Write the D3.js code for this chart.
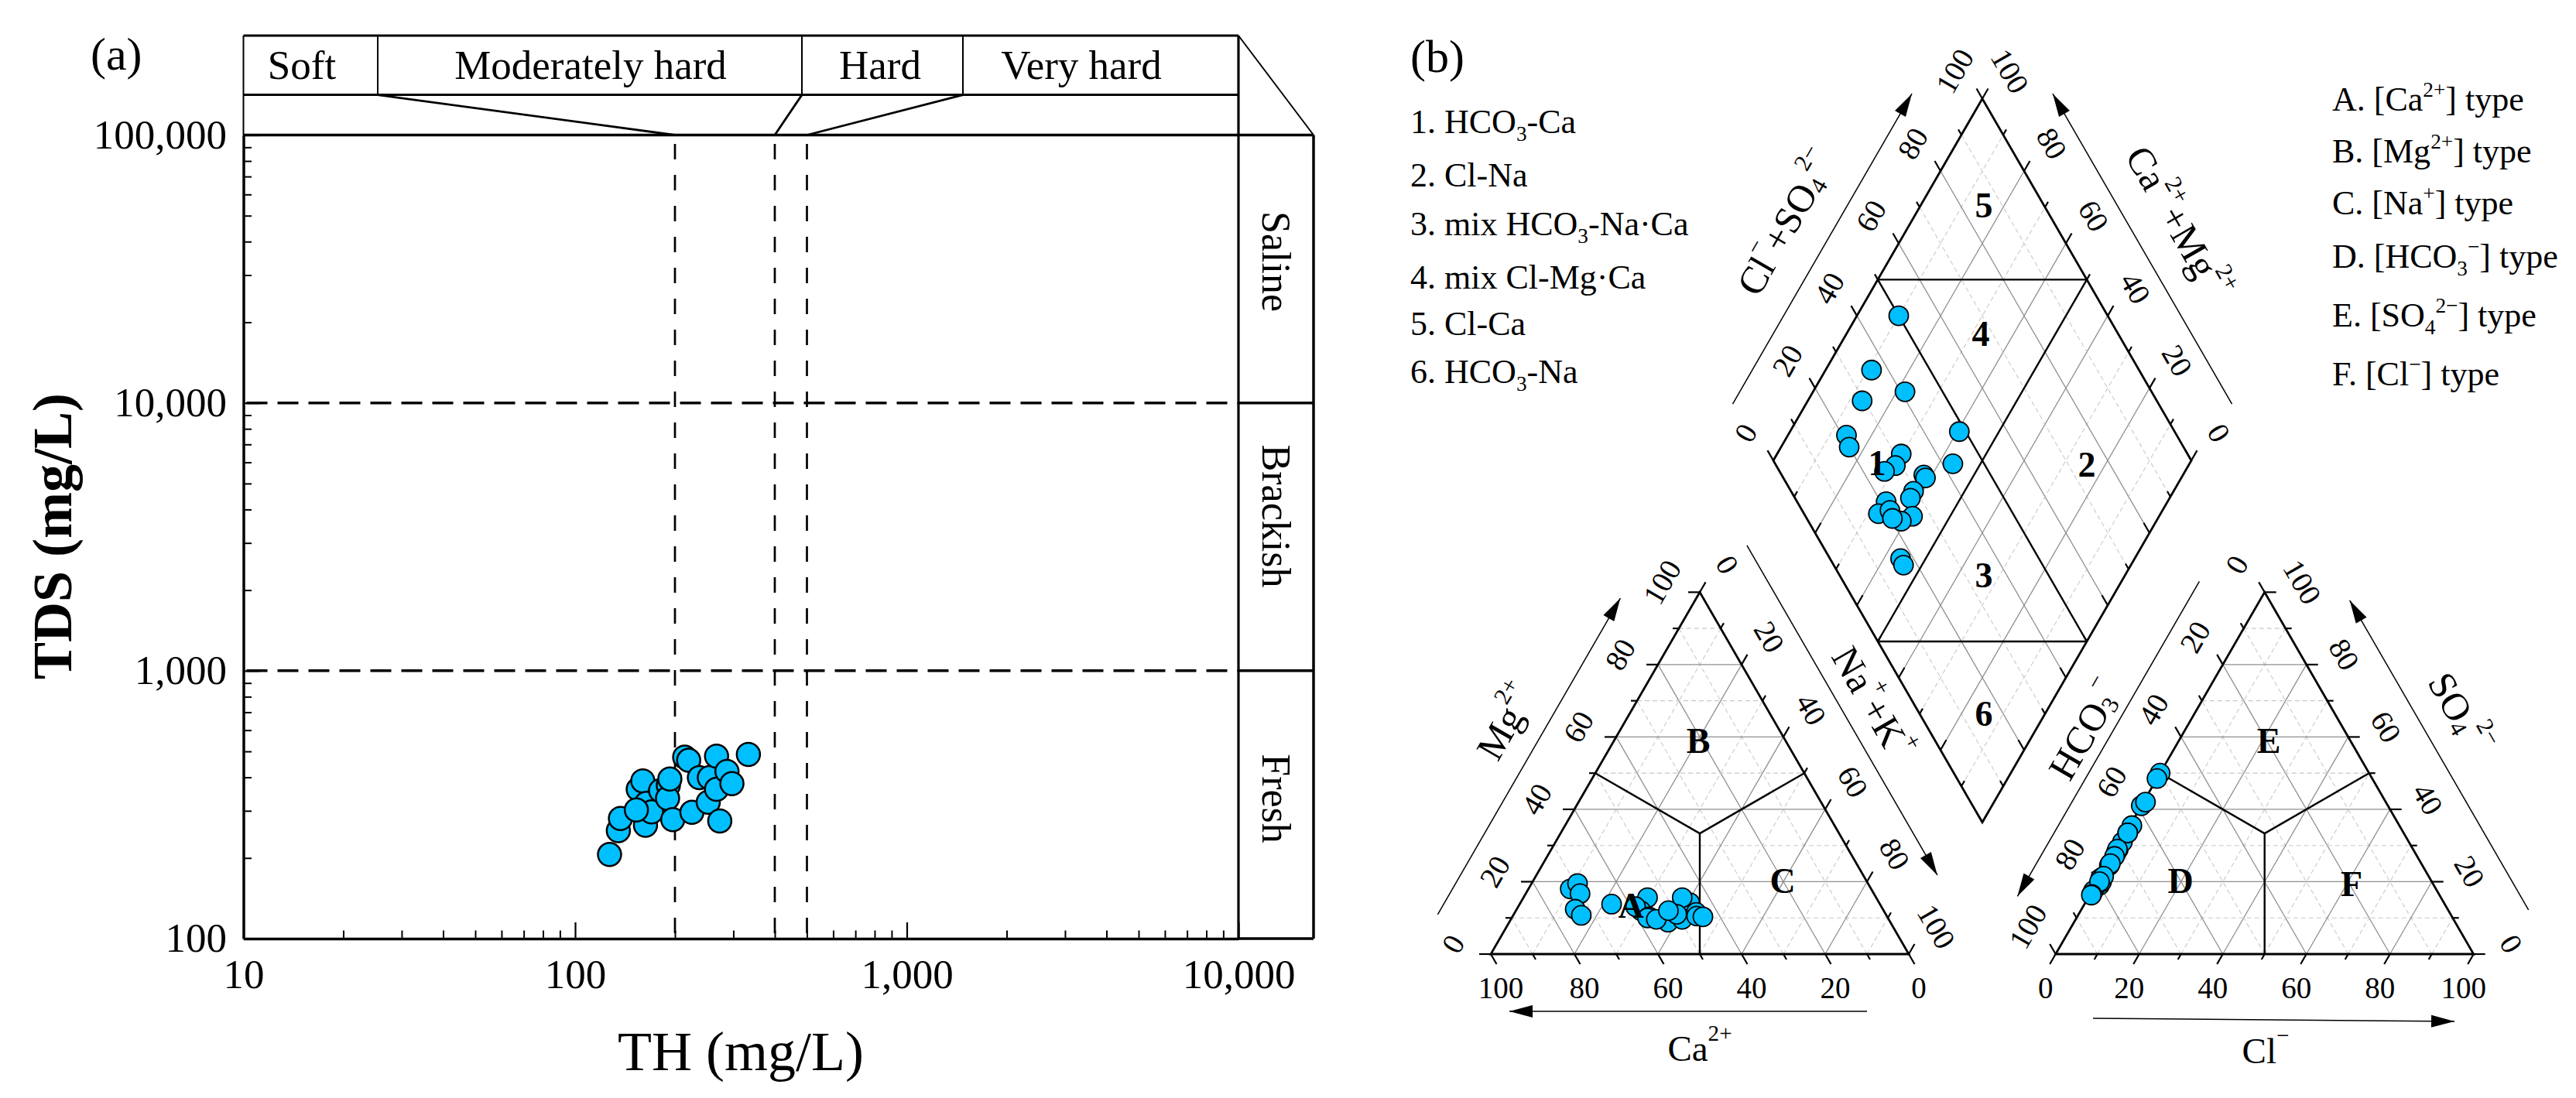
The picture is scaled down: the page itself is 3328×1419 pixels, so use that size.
<!DOCTYPE html>
<html><head><meta charset="utf-8">
<script src="https://cdn.jsdelivr.net/npm/d3@7"></script>
<style>
body{margin:0;background:#fff}
svg{display:block}
text{font-family:"Liberation Serif","Times New Roman",serif;fill:#000}
</style>
</head><body>
<svg id="c" width="3328" height="1419"></svg>
<script>
// ================= DATA =================
// Panel (a): total hardness vs total dissolved solids (mg/L)
const thValues  = [127,135,137,155,160,158,163,164,170,181,191,190,197,214,220,225,237,252,254,267,267,273,287,297,333,153,193];
const tdsValues = [206,253,281,361,388,299,265,320,297,357,373,334,278,476,463,296,399,323,399,480,361,275,421,379,487,302,394];
const hardnessClasses = ["Soft","Moderately hard","Hard","Very hard"];
const hardnessBounds = [200,400,500];
const salinityClasses = ["Saline","Brackish","Fresh"];
const salinityBounds = [10000,1000];
const xTickValues = [10,100,1000,10000];
const yTickValues = [100,1000,10000,100000];

// Panel (b): Piper diagram, milliequivalent percentages
const naK   = [10,11,22,13,14,16.3,40.5,43.4,29.7,29.9,28.1,38,38.8,37.8,38,32.7,32.5,34.8,41,39,36.5,44,45.6];
const mgPct = [18,19.5,13.8,16.7,12.4,10.7,14.2,11.5,15.6,12,13.1,15.6,11,10.3,8.8,10.3,10,9.6,9.6,11,12,10.5,10.3];
const so4Pct= [50,35.5,41,29,20.5,19,48.5,42,31,28,24.5,33.5,33.5,29,27,21,17.5,20,25,21.5,20,16.5,16.3];
const clPct = [0,0.5,0,0.5,0.5,1,0,0.5,0.5,0.5,0.6,0.5,0.5,0.3,0.6,0.3,0.3,1,0.6,0.75,0.5,0.4,0.4];
const percentTicks = [0,20,40,60,80,100];
const diamondTypes = ["1. HCO_{3}-Ca","2. Cl-Na","3. mix HCO_{3}-Na·Ca","4. mix Cl-Mg·Ca","5. Cl-Ca","6. HCO_{3}-Na"];
const triangleTypes = ["A. [Ca^{2+}] type","B. [Mg^{2+}] type","C. [Na^{+}] type","D. [HCO_{3}^{−}] type","E. [SO_{4}^{2−}] type","F. [Cl^{−}] type"];

// ================= SETUP =================
const FONT = '"Liberation Serif","Times New Roman",serif';
const BLUE = "#00bfff";
const svg = d3.select("#c");
svg.append("rect").attr("width",3328).attr("height",1419).attr("fill","#fff");

function rich(sel, str, fs){
  const parts = str.split(/(_\{[^}]*\}|\^\{[^}]*\})/g).filter(s=>s.length);
  let shift = 0;
  parts.forEach(p=>{
    let target=0, content=p, size=fs;
    if (p.startsWith("_{")) { target = 0.22*fs; content = p.slice(2,-1); size = 0.62*fs; }
    else if (p.startsWith("^{")) { target = -0.42*fs; content = p.slice(2,-1); size = 0.62*fs; }
    sel.append("tspan").attr("dy", target-shift).attr("font-size", size).text(content);
    shift = target;
  });
  return sel;
}
function line(g,x1,y1,x2,y2,w,col,dash){
  const l = g.append("line").attr("x1",x1).attr("y1",y1).attr("x2",x2).attr("y2",y2)
    .attr("stroke",col||"#000").attr("stroke-width",w).attr("stroke-linecap","butt");
  if (dash) l.attr("stroke-dasharray",dash);
  return l;
}

// ================= PANEL (a) =================
const gA = svg.append("g");
const x = d3.scaleLog().domain([10,10000]).range([314.5,1600]);
const y = d3.scaleLog().domain([100,100000]).range([1213,174.5]);

// dashed class boundaries
hardnessBounds.forEach(v=>line(gA,x(v),186,x(v),y(100),2.7,"#000","20,20"));
salinityBounds.forEach(v=>line(gA,x(10)+4,y(v),x(10000),y(v),3.5,"#000","27,13"));

// axes
const xMinor=[], yMinor=[];
for (let e=1;e<4;e++) for (let m=2;m<=9;m++) xMinor.push(m*Math.pow(10,e));
for (let e=2;e<5;e++) for (let m=2;m<=9;m++) yMinor.push(m*Math.pow(10,e));
function styleAxis(g){
  g.attr("font-size",53).attr("font-family",FONT);
  g.select(".domain").attr("stroke-width",3.5);
  g.selectAll(".tick line").attr("stroke-width",2.2);
  g.selectAll(".tick text").attr("fill","#000");
}
gA.append("g").attr("transform",`translate(0,${y(100)})`)
  .call(d3.axisBottom(x).tickValues(xMinor).tickSize(-10.5).tickFormat(""))
  .call(g=>{g.select(".domain").remove(); g.selectAll(".tick line").attr("stroke-width",2);});
gA.append("g").attr("transform",`translate(${x(10)},0)`)
  .call(d3.axisLeft(y).tickValues(yMinor).tickSize(-10.5).tickFormat(""))
  .call(g=>{g.select(".domain").remove(); g.selectAll(".tick line").attr("stroke-width",2);});
gA.append("g").attr("transform",`translate(0,${y(100)})`)
  .call(d3.axisBottom(x).tickValues(xTickValues).tickFormat(d3.format(",")).tickSizeInner(-21).tickSizeOuter(0).tickPadding(26))
  .call(styleAxis);
gA.append("g").attr("transform",`translate(${x(10)},0)`)
  .call(d3.axisLeft(y).tickValues(yTickValues).tickFormat(d3.format(",")).tickSizeInner(-21).tickSizeOuter(0).tickPadding(21.5))
  .call(styleAxis);

// frame, header and side box
const yTop = y(100000), yBot = y(100), xL = x(10), xR = x(10000);
const hTop = 46, hMid = 122.6, sideR = 1697;
line(gA,xL,yTop,sideR,yTop,3.5);
line(gA,xR,hTop,xR,yBot,3.2);
line(gA,xL,hTop,xR,hTop,3);
line(gA,xL,hMid,xR,hMid,3);
line(gA,xL,hTop,xL,yTop,2);
const dividers = [488,1036,1244];
dividers.forEach(d=>line(gA,d,hTop,d,hMid,2));
dividers.forEach((d,i)=>line(gA,d,hMid,x(hardnessBounds[i]),yTop,2.8));
line(gA,xR,hTop,sideR,yTop,2);
line(gA,sideR,yTop,sideR,yBot,3.5);
salinityBounds.forEach(v=>line(gA,xR,y(v),sideR,y(v),3.5));
line(gA,xR,yBot,sideR,yBot,3.5);

const hardLabelX = [390,763,1137,1397];
hardnessClasses.forEach((t,i)=>gA.append("text").attr("x",hardLabelX[i]).attr("y",101.5)
  .attr("text-anchor","middle").attr("font-size",53).text(t));
const salLabelY = [338,667,1032];
salinityClasses.forEach((t,i)=>gA.append("text")
  .attr("transform",`translate(1631,${salLabelY[i]}) rotate(90)`)
  .attr("text-anchor","middle").attr("font-size",52).text(t));

// titles
gA.append("text").attr("x",957).attr("y",1383).attr("text-anchor","middle").attr("font-size",72).text("TH (mg/L)");
gA.append("text").attr("transform","translate(92,693) rotate(-90)").attr("text-anchor","middle")
  .attr("font-size",72).attr("font-weight","bold").text("TDS (mg/L)");
gA.append("text").attr("x",117).attr("y",90).attr("font-size",60).text("(a)");

// points
gA.append("g").selectAll("circle").data(thValues.map((t,i)=>[t,tdsValues[i]])).join("circle")
  .attr("cx",d=>x(d[0])).attr("cy",d=>y(d[1])).attr("r",15)
  .attr("fill",BLUE).attr("stroke","#000").attr("stroke-width",2.5);

// ================= PANEL (b) PIPER =================
const gB = svg.append("g");
const S = 540, HT = S*Math.sqrt(3)/2;
const side = d3.scaleLinear().domain([0,100]).range([0,S]);
const high = d3.scaleLinear().domain([0,100]).range([0,HT]);
const LT = {x:1926, y:1233};           // left vertex of cation triangle
const RT = {x:2655.7, y:1233};         // left vertex of anion triangle
const DT = {x:2561, y:127.5};          // diamond top
const DL = {x:DT.x - S/2, y:DT.y + HT};// diamond left vertex
const DR = {x:DT.x + S/2, y:DT.y + HT};
const catXY = (na,mg)=>[LT.x + side(na) + side(mg)/2, LT.y - high(mg)];
const anXY  = (cl,so)=>[RT.x + side(cl) + side(so)/2, RT.y - high(so)];
const diaXY = (c,n)=>[DL.x + (side(c)+side(n))/2, DL.y + high(n) - high(c)];

const gridG = gB.append("g");
function gridLine(p,q,k){
  const solid = k%20===0;
  line(gridG,p[0],p[1],q[0],q[1],solid?1.3:1.1,solid?"#8f8f8f":"#c9c9c9",solid?null:"6,4");
}
for (let k=10;k<100;k+=10){
  gridLine(catXY(0,k),catXY(100-k,k),k);
  gridLine(catXY(100-k,0),catXY(0,100-k),k);
  gridLine(catXY(k,0),catXY(k,100-k),k);
  gridLine(anXY(0,k),anXY(100-k,k),k);
  gridLine(anXY(100-k,0),anXY(0,100-k),k);
  gridLine(anXY(k,0),anXY(k,100-k),k);
  gridLine(diaXY(k,0),diaXY(k,100),k);
  gridLine(diaXY(0,k),diaXY(100,k),k);
}

// outlines
const poly = pts => "M"+pts.map(p=>p.join(",")).join("L")+"Z";
gB.append("path").attr("d",poly([catXY(0,0),catXY(100,0),catXY(0,100)])).attr("fill","none").attr("stroke","#000").attr("stroke-width",2.8).attr("stroke-linejoin","miter");
gB.append("path").attr("d",poly([anXY(0,0),anXY(100,0),anXY(0,100)])).attr("fill","none").attr("stroke","#000").attr("stroke-width",2.8);
gB.append("path").attr("d",poly([diaXY(0,0),diaXY(100,0),diaXY(100,100),diaXY(0,100)])).attr("fill","none").attr("stroke","#000").attr("stroke-width",2.8);

// division lines
const third = 100/3;
[[catXY(third,third),catXY(0,50)],[catXY(third,third),catXY(50,50)],[catXY(third,third),catXY(50,0)],
 [anXY(third,third),anXY(0,50)],[anXY(third,third),anXY(50,50)],[anXY(third,third),anXY(50,0)],
 [diaXY(50,0),diaXY(50,100)],[diaXY(0,50),diaXY(100,50)],
 [diaXY(50,0),diaXY(100,50)],[diaXY(0,50),diaXY(50,100)]]
 .forEach(([p,q])=>line(gB,p[0],p[1],q[0],q[1],2.4));

// ticks & labels
const s3 = Math.sqrt(3)/2;
function edgeAxis(ptFn, tdir, normal, along, rot, valFn, labels){
  for (let k=0;k<=100;k+=10){
    const p = ptFn(k), len = k%20===0 ? 15 : 8;
    line(gB,p[0],p[1],p[0]+tdir[0]*len,p[1]+tdir[1]*len,2.2);
  }
  if (!labels) return;
  percentTicks.forEach(k=>{
    const p = ptFn(k);
    const ta = tdir[0]*along[0]+tdir[1]*along[1];
    let lx, ly;
    if (rot===0){ lx = p[0] + 26*ta*along[0]; ly = p[1] + 43; }
    else { lx = p[0] + normal[0]*49 + 26*ta*along[0]; ly = p[1] + normal[1]*49 + 26*ta*along[1]; }
    gB.append("text").attr("transform",`translate(${lx},${ly}) rotate(${rot})`)
      .attr("text-anchor","middle").attr("dominant-baseline","central").attr("font-size",39).text(valFn(k));
  });
}
// cation triangle
edgeAxis(k=>catXY(0,k), [-1,0], [-s3,-0.5], [0.5,-s3], -60, k=>k, true);          // Mg
edgeAxis(k=>catXY(k,100-k), [0.5,-s3], [s3,-0.5], [0.5,s3], 60, k=>k, true);       // Na+K
edgeAxis(k=>catXY(100-k,0), [0.5,s3], [0,1], [1,0], 0, k=>k, true);                // Ca
// anion triangle
edgeAxis(k=>anXY(100-k,k), [1,0], [s3,-0.5], [0.5,s3], 60, k=>k, true);            // SO4
edgeAxis(k=>anXY(0,100-k), [-0.5,-s3], [-s3,-0.5], [0.5,-s3], -60, k=>k, true);    // HCO3
edgeAxis(k=>anXY(k,0), [-0.5,s3], [0,1], [1,0], 0, k=>k, true);                    // Cl
// diamond
edgeAxis(k=>diaXY(k,0), [-0.5,-s3], [-s3,-0.5], [0.5,-s3], -60, k=>k, true);       // Cl+SO4
edgeAxis(k=>diaXY(100,100-k), [0.5,-s3], [s3,-0.5], [0.5,s3], 60, k=>k, true);     // Ca+Mg
edgeAxis(k=>diaXY(0,k), [0.5,-s3], null, null, 0, null, false);
edgeAxis(k=>diaXY(k,100), [-0.5,-s3], null, null, 0, null, false);

// arrows
function arrow(x1,y1,x2,y2){
  line(gB,x1,y1,x2,y2,1.5);
  const dx=x2-x1, dy=y2-y1, L=Math.hypot(dx,dy), ux=dx/L, uy=dy/L;
  const bx=x2-ux*30, by=y2-uy*30, px=-uy*8, py=ux*8;
  gB.append("path").attr("d",`M${x2},${y2}L${bx+px},${by+py}L${bx-px},${by-py}Z`).attr("fill","#000");
}
function edgeArrow(V,u,n,d,s1,s2){
  arrow(V[0]+u[0]*s1+n[0]*d, V[1]+u[1]*s1+n[1]*d, V[0]+u[0]*s2+n[0]*d, V[1]+u[1]*s2+n[1]*d);
}
const lApex = catXY(0,100), rApex = anXY(0,100);
edgeArrow(catXY(0,0),[0.5,-s3],[-s3,-0.5],85,10,482);     // Mg
edgeArrow(lApex,[0.5,s3],[s3,-0.5],83,-22,470);            // Na+K
edgeArrow(rApex,[-0.5,s3],[-s3,-0.5],80,30,500);           // HCO3
edgeArrow(rApex,[0.5,s3],[s3,-0.5],90,526,64);             // SO4
edgeArrow([DL.x,DL.y],[0.5,-s3],[-s3,-0.5],82,37,500);     // Cl+SO4
edgeArrow([DR.x,DR.y],[-0.5,-s3],[s3,-0.5],82,37,500);     // Ca+Mg
arrow(2412,1307,1950,1307);                                // Ca
arrow(2704,1316,3171,1320);                                // Cl

// axis titles
function title(str,cx,cy,rot,fs){
  const t = gB.append("text").attr("transform",`translate(${cx},${cy}) rotate(${rot})`)
    .attr("text-anchor","middle").attr("dominant-baseline","central").attr("font-size",fs);
  rich(t,str,fs);
}
title("Mg^{2+}",1946,933,-60,50);
title("Na^{+}+K^{+}",2419,908,60,50);
title("HCO_{3}^{−}",2694,943,-60,50);
title("SO_{4}^{2−}",3178,922,60,50);
title("Cl^{−}+SO_{4}^{2−}",2308,288,-60,50);
title("Ca^{2+}+Mg^{2+}",2814,288,60,50);
title("Ca^{2+}",2196,1355,0,47);
title("Cl^{−}",2927,1358,0,47);

// points
const cationPts = naK.map((v,i)=>catXY(v,mgPct[i]));
const anionPts = clPct.map((v,i)=>anXY(v,so4Pct[i]));
const diamondPts = naK.map((v,i)=>diaXY(so4Pct[i]+clPct[i],v));
[cationPts,anionPts,diamondPts].forEach(pts=>{
  gB.append("g").selectAll("circle").data(pts).join("circle")
    .attr("cx",d=>d[0]).attr("cy",d=>d[1]).attr("r",12.5)
    .attr("fill",BLUE).attr("stroke","#000").attr("stroke-width",1.8);
});

// region labels
const regionLabels = [["A",2107,1170],["B",2194,957],["C",2303,1138],["D",2817,1138],["E",2931,957],["F",3038,1142],
  ["1",2425,598],["2",2696,600],["3",2563,743],["4",2559,431],["5",2563,265],["6",2563,922]];
regionLabels.forEach(([t,cx,cy])=>gB.append("text").attr("x",cx).attr("y",cy)
  .attr("text-anchor","middle").attr("dominant-baseline","central")
  .attr("font-size",46).attr("font-weight","bold").text(t));

// legends
gB.append("text").attr("x",1822).attr("y",93).attr("font-size",60).text("(b)");
const legLY = [172,241,304,373,433,495];
diamondTypes.forEach((s,i)=>rich(gB.append("text").attr("x",1822).attr("y",legLY[i]).attr("font-size",44),s,44));
const legRY = [143,210,277,346,422,498];
triangleTypes.forEach((s,i)=>rich(gB.append("text").attr("x",3013).attr("y",legRY[i]).attr("font-size",44),s,44));
</script>
</body></html>
